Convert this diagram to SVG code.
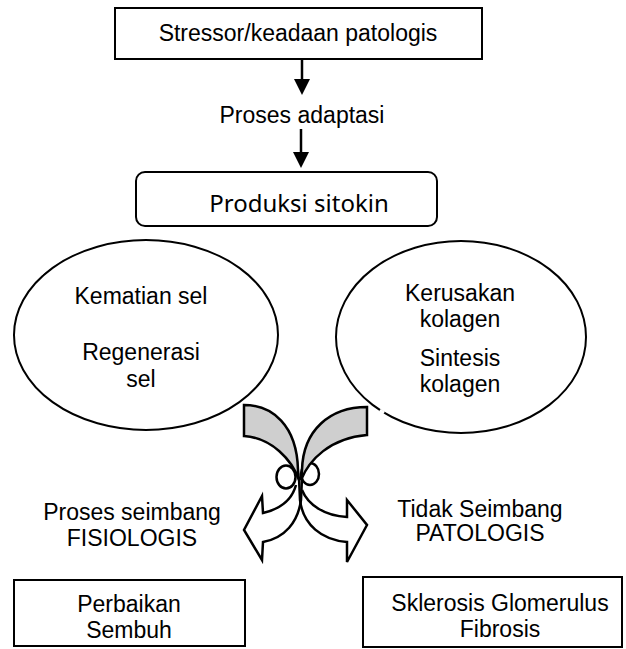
<svg xmlns="http://www.w3.org/2000/svg" width="626" height="649" viewBox="0 0 626 649">
<style>
.box{fill:#fff;stroke:#000;stroke-width:2}
.ell{fill:none;stroke:#000;stroke-width:2}
.t{font-family:"Liberation Sans",Arial,sans-serif;font-size:23px;fill:#000;text-anchor:middle}
.tc{font-family:"Noto Sans",Lato,sans-serif;font-size:24px;fill:#000;text-anchor:middle}
.ar{fill:none;stroke:#000;stroke-width:2.5;stroke-linejoin:miter}
.back{fill:#cfcfcf;stroke:#000;stroke-width:2.5}
.gap{stroke:#fff;stroke-width:3}
</style>
<rect width="626" height="649" fill="#fff"/>
<g id="connectors">
<line x1="302" y1="59" x2="302" y2="80" stroke="#000" stroke-width="2.5"/>
<polygon points="294,79 310,79 302,95" fill="#000"/>
<line x1="301" y1="129" x2="301" y2="153" stroke="#000" stroke-width="2.5"/>
<polygon points="293,152 309,152 301,168" fill="#000"/>
</g>
<g id="node-stressor">
<rect class="box" x="115" y="8" width="367" height="51"/>
<text class="t" x="298" y="41">Stressor/keadaan patologis</text>
</g>
<g id="label-adaptasi">
<text class="t" x="302" y="123">Proses adaptasi</text>
</g>
<g id="node-sitokin">
<rect class="box" x="136" y="172" width="301" height="54" rx="9"/>
<text class="tc" x="299" y="212">Produksi sitokin</text>
</g>
<g id="node-sel">
<ellipse class="ell" cx="146" cy="335" rx="132" ry="95"/>
<line class="gap" x1="41" y1="274" x2="45" y2="270"/>
<text class="t" x="141" y="304">Kematian sel</text>
<text class="t" x="141" y="360">Regenerasi</text>
<text class="t" x="141" y="387">sel</text>
</g>
<g id="node-kolagen">
<ellipse class="ell" cx="461" cy="337" rx="125" ry="96"/>
<line class="gap" x1="380" y1="410" x2="384" y2="413"/>
<text class="t" x="460" y="301">Kerusakan</text>
<text class="t" x="460" y="327">kolagen</text>
<text class="t" x="460" y="366">Sintesis</text>
<text class="t" x="460" y="392">kolagen</text>
</g>
<g id="curved-arrows">
<path class="ar" d="M299,478 L300,500 C303,525 322,540 347,542 L347,562 L367,525 L347,500 L347,517 C325,516 308,505 302,490"/>
<path class="ar" d="M302,478 L301,500 C298,522 285,538 263,542 L262,560 L244,530 L262,496 L263,513 C280,509 292,500 296,485"/>
<ellipse class="ar" cx="286" cy="477" rx="9.5" ry="11.5"/>
<ellipse class="ar" cx="310" cy="474" rx="9" ry="11"/>
<path class="back" d="M244,405 C272,405 297,425 298,470 L299,480 C292,460 272,438 244,436 Z"/>
<path class="back" d="M367,407 C330,407 303,430 302,470 L301,480 C309,460 330,438 367,435 Z"/>
</g>
<g id="label-fisiologis">
<text class="t" x="132" y="520">Proses seimbang</text>
<text class="t" x="132" y="546">FISIOLOGIS</text>
</g>
<g id="label-patologis">
<text class="t" x="480" y="517">Tidak Seimbang</text>
<text class="t" x="480" y="541">PATOLOGIS</text>
</g>
<g id="node-perbaikan">
<rect class="box" x="14" y="580" width="231" height="66"/>
<text class="t" x="129" y="612">Perbaikan</text>
<text class="t" x="129" y="638">Sembuh</text>
</g>
<g id="node-sklerosis">
<rect class="box" x="363" y="577" width="259" height="70"/>
<text class="t" x="500" y="611">Sklerosis Glomerulus</text>
<text class="t" x="500" y="637">Fibrosis</text>
</g>
</svg>
